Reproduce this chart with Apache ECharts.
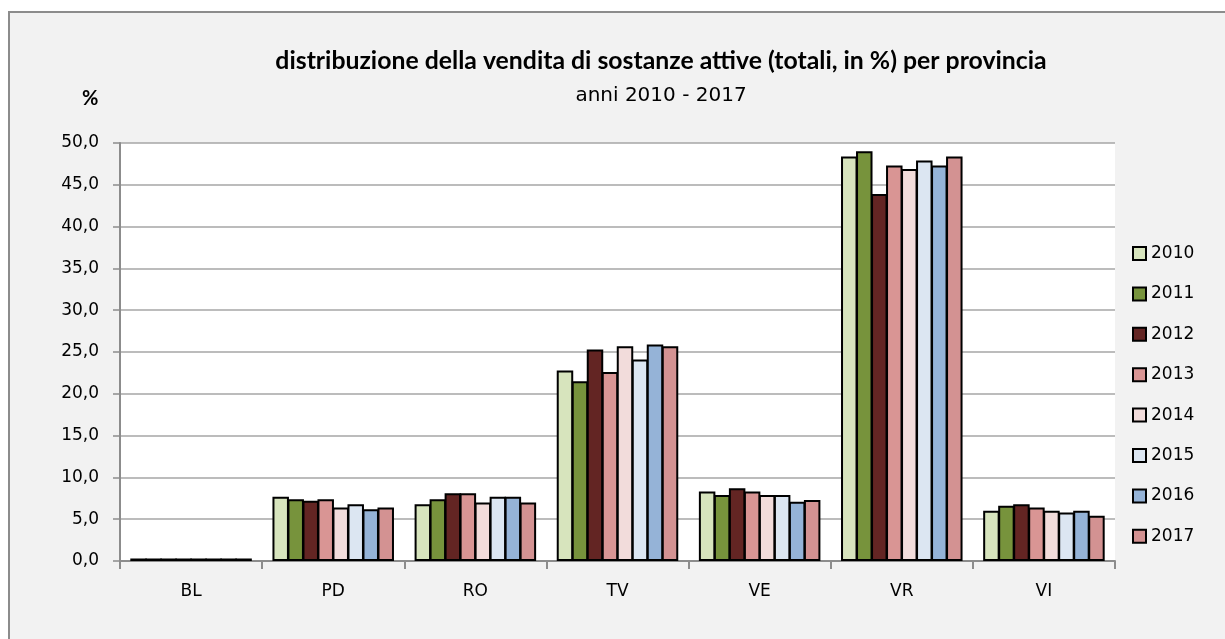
<!DOCTYPE html>
<html>
<head>
<meta charset="utf-8">
<script src="https://cdn.jsdelivr.net/npm/echarts@6/dist/echarts.min.js"></script>
<style>
  html, body { margin: 0; padding: 0; background: #fff; }
  #main { width: 1225px; height: 639px; }
</style>
</head>
<body>
<div id="main"></div>
<script>
const province = ['BL', 'PD', 'RO', 'TV', 'VE', 'VR', 'VI'];
const years = ['2010', '2011', '2012', '2013', '2014', '2015', '2016', '2017'];
// una riga per anno, valori per provincia (%)
const v2010 = [0.3, 7.7, 6.8, 22.8, 8.3, 48.4, 6.0];
const v2011 = [0.3, 7.4, 7.4, 21.5, 7.9, 49.0, 6.6];
const v2012 = [0.3, 7.2, 8.1, 25.3, 8.7, 43.9, 6.8];
const v2013 = [0.3, 7.4, 8.1, 22.6, 8.3, 47.3, 6.4];
const v2014 = [0.3, 6.4, 7.0, 25.7, 7.9, 46.9, 6.0];
const v2015 = [0.3, 6.8, 7.7, 24.1, 7.9, 47.9, 5.8];
const v2016 = [0.3, 6.2, 7.7, 25.9, 7.1, 47.3, 6.0];
const v2017 = [0.3, 6.4, 7.0, 25.7, 7.3, 48.4, 5.4];
const yearValues = [v2010, v2011, v2012, v2013, v2014, v2015, v2016, v2017];
const colors = ['#d7e4bd', '#77933c', '#632523', '#d99594', '#f2dcdb', '#dce6f2', '#95b3d7', '#d39292'];

const myChart = echarts.init(document.getElementById('main'));
const font = '"DejaVu Sans", sans-serif';
const titleFont = 'Lato, sans-serif';

const option = {
  backgroundColor: '#ffffff',
  textStyle: { fontFamily: font },
  graphic: [
    {
      type: 'rect', z: -10, silent: true,
      shape: { x: 9, y: 12, width: 1230, height: 640 },
      style: { fill: '#f2f2f2', stroke: '#8c8c8c', lineWidth: 2 }
    },
    {
      type: 'rect', z: -5, silent: true,
      shape: { x: 120, y: 143, width: 995, height: 418 },
      style: { fill: '#ffffff' }
    },
    {
      type: 'text', left: 82, top: 89,
      style: { text: '%', fontSize: 20, fontWeight: 'bold', fontFamily: titleFont, fill: '#000' }
    }
  ],
  title: {
    text: 'distribuzione della vendita di sostanze attive (totali, in %) per provincia',
    subtext: 'anni 2010 - 2017',
    left: 656, textAlign: 'center', top: 44, itemGap: 12,
    textStyle: { fontSize: 24.8, fontWeight: 'bold', color: '#000', fontFamily: titleFont },
    subtextStyle: { fontSize: 20, color: '#000', fontFamily: font }
  },
  legend: {
    orient: 'vertical', left: 1132, top: 245, padding: 0,
    itemWidth: 13, itemHeight: 13, itemGap: 23.4,
    icon: 'rect',
    textStyle: { fontSize: 17, color: '#000', fontFamily: font }
  },
  grid: { left: 120, right: 110, top: 143, bottom: 78, containLabel: false },
  xAxis: {
    type: 'category',
    data: province,
    axisLine: { lineStyle: { color: '#8c8c8c', width: 2 } },
    axisTick: { show: true, alignWithLabel: false, length: 8, lineStyle: { color: '#8c8c8c', width: 2 } },
    axisLabel: { fontSize: 17, color: '#000', margin: 22 }
  },
  yAxis: {
    type: 'value', min: 0, max: 50, interval: 5,
    axisLine: { show: true, lineStyle: { color: '#8c8c8c', width: 2 } },
    axisTick: { show: true, inside: false, length: 7, lineStyle: { color: '#8c8c8c', width: 1.5 } },
    splitLine: { lineStyle: { color: '#a6a6a6', width: 1.5 } },
    axisLabel: {
      fontSize: 17, color: '#000', margin: 21,
      formatter: v => v.toFixed(1).replace('.', ',')
    }
  },
  series: years.map((y, i) => ({
    name: y,
    type: 'bar',
    data: yearValues[i],
    barGap: '-9%',
    barWidth: '11.6%',
    itemStyle: { color: colors[i], borderColor: '#000', borderWidth: 2 }
  }))
};

myChart.setOption(option);
</script>
</body>
</html>
